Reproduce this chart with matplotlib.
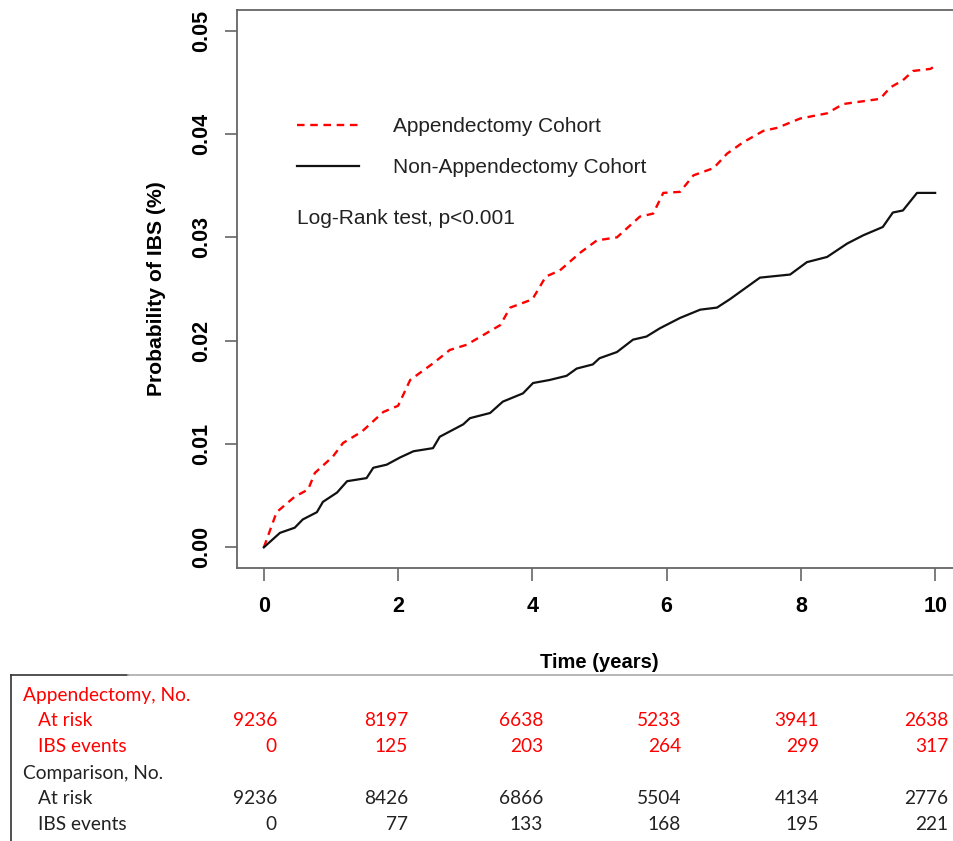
import matplotlib
matplotlib.use('Agg')
import matplotlib.pyplot as plt
from matplotlib.lines import Line2D

# cumulative incidence
app_time = [0, 0.19, 0.46, 0.66, 0.76, 1.03, 1.18, 1.46, 1.78, 2.0, 2.18, 2.52, 2.77, 3.02, 3.52,
            3.67, 4.0, 4.2, 4.41, 4.71, 4.96, 5.26, 5.6, 5.8, 5.95, 6.2, 6.4, 6.7, 6.9, 7.14,
            7.44, 7.65, 7.99, 8.39, 8.63, 9.18, 9.33, 9.52, 9.67, 9.93, 10.0]
app_prob = [0, 0.0034, 0.0049, 0.0056, 0.0072, 0.0088, 0.0101, 0.0112, 0.0131, 0.0137, 0.0162,
            0.0178, 0.0191, 0.0196, 0.0215, 0.0232, 0.0240, 0.0262, 0.0268, 0.0285, 0.0297,
            0.0300, 0.0320, 0.0323, 0.0343, 0.0344, 0.0360, 0.0367, 0.0381, 0.0392, 0.0403,
            0.0406, 0.0415, 0.0420, 0.0429, 0.0434, 0.0445, 0.0452, 0.0461, 0.0463, 0.0466]

non_time = [0, 0.24, 0.46, 0.58, 0.79, 0.88, 1.09, 1.24, 1.53, 1.63, 1.83, 2.03, 2.23, 2.52,
            2.62, 2.97, 3.07, 3.37, 3.56, 3.86, 4.01, 4.26, 4.51, 4.66, 4.9, 5.0, 5.26, 5.5,
            5.7, 5.9, 6.2, 6.5, 6.75, 6.94, 7.39, 7.84, 8.09, 8.39, 8.69, 8.93, 9.22, 9.37,
            9.52, 9.73, 10.0]
non_prob = [0, 0.0014, 0.0019, 0.0027, 0.0034, 0.0044, 0.0053, 0.0064, 0.0067, 0.0077, 0.0080,
            0.0087, 0.0093, 0.0096, 0.0107, 0.0119, 0.0125, 0.0130, 0.0141, 0.0149, 0.0159,
            0.0162, 0.0166, 0.0173, 0.0177, 0.0183, 0.0189, 0.0201, 0.0204, 0.0212, 0.0222,
            0.0230, 0.0232, 0.0240, 0.0261, 0.0264, 0.0276, 0.0281, 0.0294, 0.0302, 0.0310,
            0.0324, 0.0326, 0.0343, 0.0343]

x_ticks = [0, 2, 4, 6, 8, 10]
y_ticks = [0.00, 0.01, 0.02, 0.03, 0.04, 0.05]
y_tick_labels = ['0.00', '0.01', '0.02', '0.03', '0.04', '0.05']

# number at risk table
app_at_risk = [9236, 8197, 6638, 5233, 3941, 2638]
app_events = [0, 125, 203, 264, 299, 317]
cmp_at_risk = [9236, 8426, 6866, 5504, 4134, 2776]
cmp_events = [0, 77, 133, 168, 195, 221]

W, H = 954, 841
fig = plt.figure(figsize=(W / 100, H / 100), dpi=100)
ax = fig.add_axes([237 / W, 1 - 568 / H, 725 / W, 558 / H])

ax.plot(app_time, app_prob, color='red', lw=1.7, dashes=(3.2, 2.4),
        label='Appendectomy Cohort')
ax.plot(non_time, non_prob, color='#111111', lw=1.6,
        label='Non-Appendectomy Cohort')

ax.set_xlim(-0.4, 10.4)
ax.set_ylim(-0.002, 0.052)
ax.set_xticks(x_ticks)
ax.set_xticklabels([str(t) for t in x_ticks])
ax.set_yticks(y_ticks)
ax.set_yticklabels(y_tick_labels, rotation=90)
for lab in ax.get_yticklabels():
    lab.set_va('center')

tick_font = dict(family='Liberation Sans', weight='bold', size=15.5)
for lab in ax.get_xticklabels() + ax.get_yticklabels():
    lab.set_fontproperties(tick_font)

for sp in ax.spines.values():
    sp.set_color('#666666')
    sp.set_linewidth(1.3)
ax.tick_params(length=9, width=1.2, color='#666666', pad=11)
ax.tick_params(axis='y', pad=9)

ax.set_xlabel('Time (years)', family='Liberation Sans', weight='bold', size=14.5, labelpad=26)
ax.set_ylabel('Probability of IBS (%)', family='Liberation Sans', weight='bold', size=15.2,
              labelpad=18)

leg = ax.legend(loc='upper left', bbox_to_anchor=(297 / W, 1 - 117 / H),
                bbox_transform=fig.transFigure, frameon=False, borderpad=0, borderaxespad=0,
                handlelength=3.0, handletextpad=1.6, labelspacing=1.05,
                prop=dict(family='Liberation Sans', size=15))
for t in leg.get_texts():
    t.set_color('#222222')

fig.text(297 / W, 1 - 219 / H, 'Log-Rank test, p<0.001', family='Liberation Sans', size=15,
         color='#222222', va='center', ha='left')

# table frame
fig.add_artist(Line2D([11 / W, 128 / W], [1 - 675 / H, 1 - 675 / H], color='#333333', lw=1.2,
                      transform=fig.transFigure))
fig.add_artist(Line2D([128 / W, 1.0], [1 - 675 / H, 1 - 675 / H], color='#aaaaaa', lw=1.2,
                      transform=fig.transFigure))
fig.add_artist(Line2D([11 / W, 11 / W], [1 - 675 / H, 0], color='#333333', lw=1.2,
                      transform=fig.transFigure))

tfont = dict(family='Lato', size=13.8)
row_y = [695, 721, 747, 773, 799, 825]
col_right = [277, 408, 543, 681, 819, 948]
rows = [('Appendectomy, No.', None, 'red', 23),
        ('At risk', app_at_risk, 'red', 38),
        ('IBS events', app_events, 'red', 38),
        ('Comparison, No.', None, '#222222', 23),
        ('At risk', cmp_at_risk, '#222222', 38),
        ('IBS events', cmp_events, '#222222', 38)]
for (label, vals, col, lx), ry in zip(rows, row_y):
    fig.text(lx / W, 1 - ry / H, label, color=col, va='center', ha='left', **tfont)
    if vals is not None:
        for v, cx in zip(vals, col_right):
            fig.text(cx / W, 1 - ry / H, str(v), color=col, va='center', ha='right', **tfont)

fig.savefig('out.png', dpi=100)
